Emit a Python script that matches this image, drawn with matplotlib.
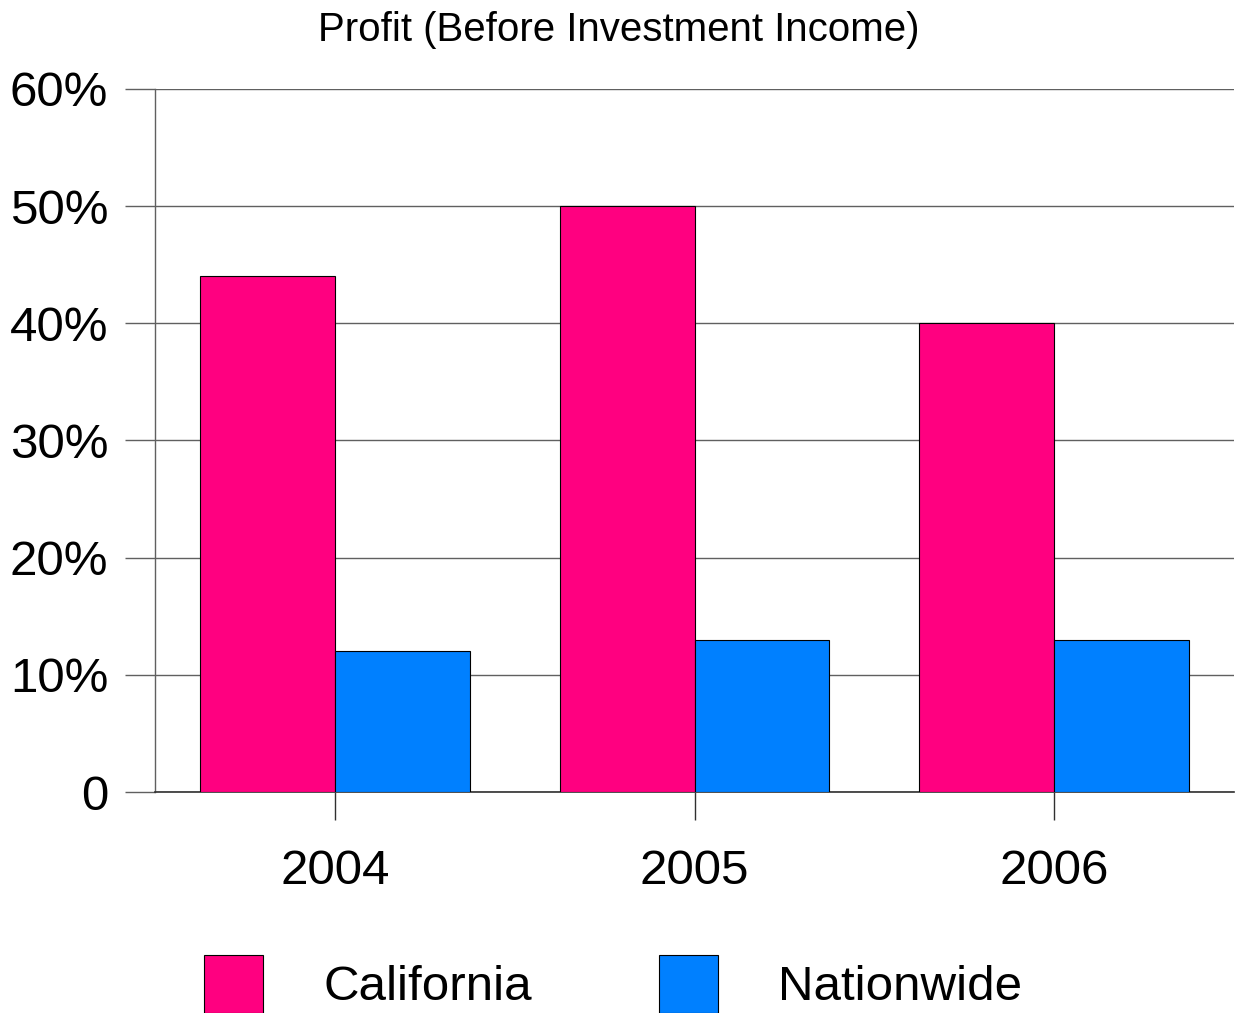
import numpy as np
import matplotlib.pyplot as plt
from matplotlib.patches import Patch

plt.rcParams['font.family'] = ['Liberation Sans', 'DejaVu Sans']

# data
years = ['2004', '2005', '2006']
california = [44, 50, 40]
nationwide = [12, 13, 13]
y_ticks = [0, 10, 20, 30, 40, 50, 60]
y_labels = ['0', '10%', '20%', '30%', '40%', '50%', '60%']

pink = '#FF0080'
blue = '#0080FF'
grid_col = '#606060'

W, H = 1236, 1013
fig = plt.figure(figsize=(W / 100, H / 100), dpi=100)
ax = fig.add_axes([155 / W, 1 - 792 / H, (1234 - 155) / W, (792 - 89) / H])

x = np.arange(len(years))
bw = 0.375
ax.bar(x - bw / 2, california, bw, color=pink, edgecolor='black', linewidth=0.8, zorder=3)
ax.bar(x + bw / 2, nationwide, bw, color=blue, edgecolor='black', linewidth=0.8, zorder=3)

ax.set_xlim(-0.5, 2.5)
ax.set_ylim(0, 60)
ax.set_yticks(y_ticks)
ax.set_yticklabels(y_labels)
ax.set_xticks(x)
ax.set_xticklabels(years)

ax.yaxis.grid(True, color=grid_col, linewidth=1.0, zorder=0)
ax.set_axisbelow(True)
for s in ['top', 'right']:
    ax.spines[s].set_visible(False)
ax.spines['left'].set_color(grid_col)
ax.spines['left'].set_linewidth(1.0)
ax.spines['bottom'].set_color('#303030')
ax.spines['bottom'].set_linewidth(1.2)

ax.tick_params(axis='y', length=21.6, width=1.0, color=grid_col, pad=12, labelsize=35.5)
ax.tick_params(axis='x', length=20, width=1.0, color='#303030', pad=21, labelsize=35.5)

fig.text(619 / W, 1 - 30 / H, 'Profit (Before Investment Income)', ha='center', va='center', fontsize=29)

handles = [Patch(facecolor=pink, edgecolor='black', linewidth=0.8, label='California'),
           Patch(facecolor=blue, edgecolor='black', linewidth=0.8, label='Nationwide')]
fig.legend(handles=handles, loc='upper left', bbox_to_anchor=(204 / W, 1 - 955 / H),
           ncol=2, frameon=False, fontsize=35.5, borderpad=0, borderaxespad=0,
           handlelength=1.2, handleheight=1.43, handletextpad=1.22, columnspacing=2.58)

fig.savefig('out.png', dpi=100)
